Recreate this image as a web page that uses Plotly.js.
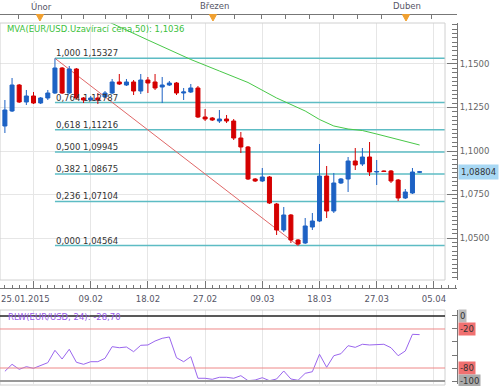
<!DOCTYPE html>
<html><head><meta charset="utf-8">
<script src="https://cdn.plot.ly/plotly-3.0.1.min.js"></script>
<style>html,body{margin:0;padding:0;background:#fff}#chart{width:500px;height:386px}</style>
</head><body><div id="chart"></div>
<script>
// ---- data ----
const dateLabels = ['25.01.2015','09.02','18.02','27.02','09.03','18.03','27.03','05.04'];
const dateTickIdx = [4,12,20,28,36,44,52,60];
const monthLabels = ['Únor','Březen','Duben'];
const monthIdx = [4.9, 29.1, 56.1];
const topTicks = [-0.55,1.87,4.91,7.94,10.97,14.0,17.03,20.06,23.09,26.13,29.15,32.18,35.92,39.18,42.57,45.93,49.29,52.70,56.06,59.69];

const open = [1.11437,1.12299,1.13793,1.12816,1.13161,1.12759,1.13046,1.13333,1.14770,1.13333,
1.14713,1.13046,1.12931,1.13046,1.13103,1.13333,1.13966,1.13793,1.13966,1.13448,
1.14080,1.13966,1.13678,1.13793,1.13908,1.13333,1.13391,1.13621,1.11954,1.11897,
1.11724,1.11839,1.11724,1.10747,1.10230,1.08391,1.08276,1.08506,1.06954,1.05460,
1.06322,1.04885,1.04713,1.05632,1.05977,1.08563,1.06552,1.08161,1.08391,1.09425,
1.09253,1.09655,1.08793,1.08851,1.08851,1.08333,1.07299,1.07586,1.08780];
const high = [1.12931,1.14195,1.13851,1.13506,1.13391,1.13103,1.13506,1.15327,1.14828,1.14885,
1.14770,1.13103,1.13161,1.13333,1.13448,1.14138,1.14425,1.14138,1.14080,1.14425,
1.14253,1.14425,1.14253,1.14023,1.13966,1.13621,1.13851,1.13736,1.12414,1.11954,
1.12356,1.12069,1.11839,1.11092,1.10287,1.08448,1.09023,1.08563,1.07011,1.06782,
1.06379,1.04943,1.06149,1.06437,1.10402,1.09138,1.08736,1.08448,1.09655,1.10172,
1.10172,1.10517,1.09483,1.08880,1.08908,1.08391,1.07816,1.09023,1.08851];
const low = [1.11034,1.12241,1.12759,1.12644,1.12701,1.12701,1.12931,1.13276,1.13276,1.13276,
1.12989,1.12759,1.12874,1.12701,1.13046,1.13276,1.13793,1.13736,1.13218,1.13276,
1.13333,1.13506,1.12759,1.13736,1.13218,1.12931,1.13333,1.11897,1.11724,1.11724,
1.11609,1.11609,1.10632,1.09885,1.08333,1.08218,1.08218,1.06954,1.05172,1.05345,
1.04713,1.04564,1.04655,1.05460,1.05920,1.06149,1.06437,1.08103,1.07644,1.08908,
1.09138,1.08563,1.08046,1.08793,1.08161,1.07126,1.07241,1.07529,1.08736];
const close = [1.12356,1.13793,1.12816,1.13161,1.12759,1.13046,1.13333,1.14770,1.13333,1.14713,
1.13046,1.12931,1.13046,1.12931,1.13333,1.13966,1.13851,1.13966,1.13448,1.14080,
1.13908,1.13621,1.13793,1.13908,1.13333,1.13391,1.13621,1.11954,1.11839,1.11782,
1.11839,1.11724,1.10747,1.10230,1.08391,1.08276,1.08506,1.07011,1.05460,1.06322,
1.04885,1.04655,1.05690,1.05977,1.08563,1.06552,1.08161,1.08391,1.09425,1.09195,
1.09655,1.08793,1.08822,1.08822,1.08276,1.07299,1.07644,1.08793,1.08804];

const mvaIdx = [14,15,20,26,30,34,38,42,44,46,48,50,52,54,56,58];
const mvaVal = [1.17529,1.17328,1.16379,1.15259,1.14598,1.13937,1.13046,1.12299,1.11810,1.11437,1.11264,1.11178,1.10977,1.10776,1.10575,1.10345];

const wpr = [-85.1,-74.3,-82,-78,-80.5,-76.5,-71.8,-52.8,-66.2,-51.2,
-71.2,-74.3,-70.3,-70.3,-65.1,-47.2,-48.8,-47.7,-54.9,-45.1,
-44.6,-38.5,-34.3,-32.3,-64.2,-70.3,-62.6,-95.8,-95.8,-97.4,
-94.3,-94.3,-95.8,-91.8,-99.5,-98.5,-94.9,-99.5,-96.9,-84.6,
-96.9,-98.9,-88.2,-85.7,-58.9,-78.9,-61.1,-58,-45.7,-48.2,
-43.5,-44.6,-43.5,-43.5,-48.8,-61.1,-53.8,-28.2,-28.7];

const fibRatio = ['1,000','0,764','0,618','0,500','0,382','0,236','0,000'];
const fibLevel = [1.15327,1.12787,1.11216,1.09945,1.08675,1.07104,1.04564];
const fibStartIdx = 7, fibEndIdx = 41;
const lastPrice = 1.08804;
const mvaText = 'MVA(EUR/USD.Uzavírací cena,50): 1,1036';
const wprText = 'RLW(EUR/USD, 24): -28,70';
const wprLevels = [0,-20,-80,-100];
const wprLevelText = ['0','-20','-80','-100'];
const priceTicks = [1.05,1.075,1.1,1.125,1.15];

// ---- layout helpers ----
const H = 386, W = 500;
const py = y => (H - y) / H;
const px = x => x / W;
const idx = open.map((_, i) => i);
const BLUE = '#1d62c4', RED = '#d40000';
const XR = [-0.685, 63.23];
const FONT = 'DejaVu Sans';
const FS = 8.5;

const traces = [
  {type:'candlestick', x: idx, open, high, low, close, xaxis:'x', yaxis:'y',
   increasing:{line:{color:BLUE,width:1}, fillcolor:BLUE},
   decreasing:{line:{color:RED,width:1}, fillcolor:RED},
   whiskerwidth:0, hoverinfo:'skip'},
  {type:'scatter', mode:'lines', x: mvaIdx, y: mvaVal, xaxis:'x', yaxis:'y',
   line:{color:'#48c848', width:1}, hoverinfo:'skip'},
  {type:'scatter', mode:'lines', x: idx, y: wpr, xaxis:'x2', yaxis:'y2',
   line:{color:'#9a66ee', width:1}, hoverinfo:'skip'}
];

const shapes = [];
// plot boxes
shapes.push({type:'rect', xref:'paper', yref:'paper', x0:0, x1:px(445), y0:py(280), y1:py(23), line:{color:'#d0d0d0', width:1}});
shapes.push({type:'rect', xref:'paper', yref:'paper', x0:0, x1:px(445), y0:py(385), y1:py(310), line:{color:'#d0d0d0', width:1}});
// fib lines
fibLevel.forEach(l => shapes.push({type:'line', xref:'x', yref:'y', x0:fibStartIdx, x1:61.55, y0:l, y1:l, layer:'between', line:{color:'#5dbcc4', width:1.5}}));
shapes.push({type:'line', xref:'x', yref:'y', x0:fibStartIdx, y0:fibLevel[0], x1:fibEndIdx, y1:fibLevel[6], layer:'between', line:{color:'#e06868', width:1}});
// WPR levels
const lvlColor = ['#222222','#ee8888','#ee8888','#999999'];
const lvlWidth = [1.3,1,1,2];
wprLevels.forEach((l,k) => shapes.push({type:'line', xref:'paper', yref:'y2', x0:0, x1:px(445), y0:l, y1:l, line:{color:lvlColor[k], width:lvlWidth[k]}}));
// month markers
monthIdx.forEach(m => shapes.push({type:'path', xref:'x', yref:'paper',
  path:`M ${m-0.5},${py(14.5)} L ${m+0.5},${py(14.5)} L ${m},${py(21)} Z`,
  fillcolor:'#f0a030', line:{color:'#f0a030', width:1}}));

const annotations = [];
monthLabels.forEach((t,k) => annotations.push({xref:'x', yref:'paper', x:monthIdx[k]+0.2, y:py(6.5), text:t, showarrow:false, xanchor:'center', yanchor:'middle', font:{family:FONT, size:FS, color:'#556'}}));
annotations.push({xref:'paper', yref:'paper', x:0, y:py(299), text:dateLabels[0], showarrow:false, xanchor:'left', yanchor:'middle', borderpad:0, font:{family:FONT, size:FS, color:'#556'}});
annotations.push({xref:'paper', yref:'paper', x:px(5), y:py(29), text:mvaText, showarrow:false, xanchor:'left', yanchor:'middle', font:{family:FONT, size:FS, color:'#3cbf3c'}});
annotations.push({xref:'paper', yref:'paper', x:px(6), y:py(317), text:wprText, showarrow:false, xanchor:'left', yanchor:'middle', font:{family:FONT, size:FS, color:'#9a5ce8'}});
fibLevel.forEach((l,k) => annotations.push({xref:'x', yref:'y', x:fibStartIdx, y:l, text:fibRatio[k]+' '+l.toFixed(5).replace('.',','), showarrow:false, xanchor:'left', yanchor:'bottom', borderpad:0, yshift:-1, font:{family:FONT, size:FS, color:'#333'}}));
annotations.push({xref:'paper', yref:'y', x:px(458), y:lastPrice, text:lastPrice.toFixed(5).replace('.',','), showarrow:false, xanchor:'left', yanchor:'middle', bgcolor:'#a8d8f4', borderpad:2, font:{family:FONT, size:FS, color:'#333'}});
const lvlBg = ['#bbbbbb','#f07070','#f07070','#aaaaaa'];
wprLevels.forEach((l,k) => annotations.push({xref:'paper', yref:'y2', x:px(458), y:l, text:wprLevelText[k], showarrow:false, xanchor:'left', yanchor:'middle', bgcolor:lvlBg[k], borderpad:1, font:{family:FONT, size:FS, color:'#333'}}));

const layout = {
  width:W, height:H, margin:{l:0,r:0,t:0,b:0}, showlegend:false,
  paper_bgcolor:'#fff', plot_bgcolor:'rgba(0,0,0,0)', separators:',.',
  font:{family:FONT, size:FS, color:'#666'}, boxgap:0.2,
  xaxis:{domain:[0,0.914], range:XR, anchor:'free', position:py(14), side:'top',
    showline:true, linecolor:'#777', linewidth:1, tickmode:'array', tickvals:topTicks,
    ticks:'inside', ticklen:4, tickcolor:'#777', showticklabels:false, showgrid:false, zeroline:false,
    rangeslider:{visible:false}, fixedrange:true,
    minor:{tickmode:'array', tickvals:dateTickIdx, showgrid:true, gridcolor:'#e6e6e6', gridwidth:1, ticks:''}},
  yaxis:{domain:[py(280), py(23)], range:[1.02586,1.17356], side:'right', anchor:'free', position:0.914,
    showline:true, linecolor:'#777', tickmode:'array', tickvals:priceTicks, tickformat:'.4f',
    ticks:'inside', ticklen:10, tickcolor:'#777', showgrid:true, gridcolor:'#e6e6e6', zeroline:false,
    tickfont:{family:FONT, size:FS, color:'#666'},
    minor:{tickmode:'linear', tick0:1.0, dtick:0.0025, ticks:'inside', ticklen:5, tickcolor:'#777', showgrid:false}},
  xaxis2:{domain:[0,0.914], range:XR, anchor:'free', position:py(288), side:'bottom',
    showline:true, linecolor:'#777', tickmode:'array', tickvals:dateTickIdx, ticktext:[''].concat(dateLabels.slice(1)),
    ticks:'inside', ticklen:7, tickcolor:'#777', showgrid:true, gridcolor:'#e6e6e6', zeroline:false,
    tickfont:{family:FONT, size:FS, color:'#556'}, ticklabelstandoff:3,
    minor:{tickmode:'linear', tick0:0, dtick:1, ticks:'inside', ticklen:3, tickcolor:'#777', showgrid:false}},
  yaxis2:{domain:[py(384), py(310)], range:[-104.6, 9.2], side:'right', anchor:'free', position:0.914,
    showline:true, linecolor:'#777', tickmode:'array', tickvals:[0,-20,-40,-60,-80,-100],
    ticks:'inside', ticklen:5, tickcolor:'#777', showticklabels:false, showgrid:false, zeroline:false},
  shapes, annotations
};

Plotly.newPlot('chart', traces, layout, {staticPlot:true, displayModeBar:false});
</script></body></html>
